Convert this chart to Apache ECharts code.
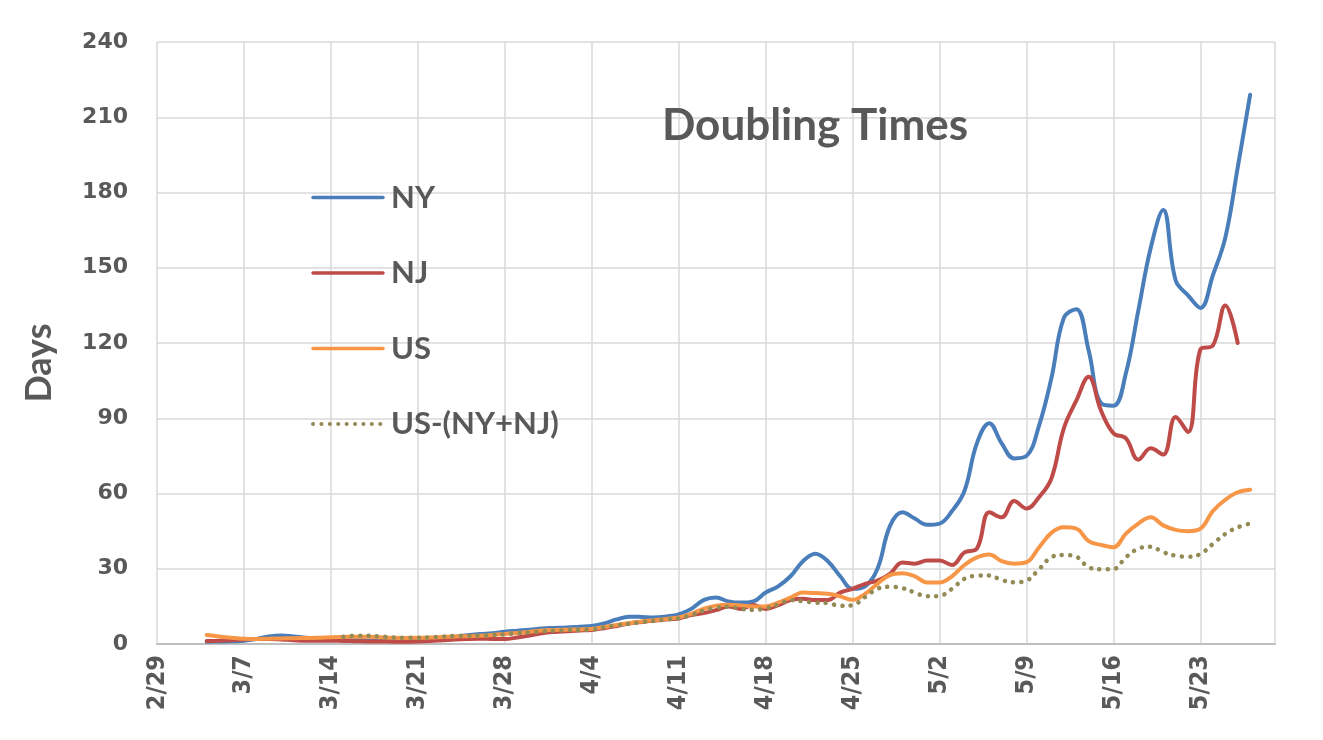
<!DOCTYPE html>
<html>
<head>
<meta charset="utf-8">
<script src="https://cdn.jsdelivr.net/npm/echarts@6/dist/echarts.min.js"></script>
<style>
html, body { margin: 0; padding: 0; background: #fff; }
#chart { width: 1323px; height: 740px; }
</style>
</head>
<body>
<div id="chart"></div>
<script>
// Doubling Times chart
var days = ['2/29','3/1','3/2','3/3','3/4','3/5','3/6','3/7','3/8','3/9','3/10','3/11','3/12','3/13',
    '3/14','3/15','3/16','3/17','3/18','3/19','3/20','3/21','3/22','3/23','3/24','3/25','3/26','3/27',
    '3/28','3/29','3/30','3/31','4/1','4/2','4/3','4/4','4/5','4/6','4/7','4/8','4/9','4/10',
    '4/11','4/12','4/13','4/14','4/15','4/16','4/17','4/18','4/19','4/20','4/21','4/22','4/23','4/24',
    '4/25','4/26','4/27','4/28','4/29','4/30','5/1','5/2','5/3','5/4','5/5','5/6','5/7','5/8',
    '5/9','5/10','5/11','5/12','5/13','5/14','5/15','5/16','5/17','5/18','5/19','5/20','5/21','5/22',
    '5/23','5/24','5/25','5/26','5/27','5/28','5/29'];

var ny = [null,null,null,null,0.9,1.0,1.1,1.3,2.0,3.0,3.4,3.0,2.5,2.2,
    1.9,1.7,1.5,1.4,1.3,1.3,1.4,1.6,2.0,2.4,2.9,3.5,4.0,4.3,
    4.9,5.3,5.7,6.2,6.4,6.6,6.9,7.2,8.2,9.8,10.9,10.8,10.6,11.0,
    11.8,14.0,17.5,18.5,17.0,16.5,17.0,20.5,23.0,27.0,33.0,36.0,33.0,27.0,
    22.0,23.0,30.0,47.0,52.5,50.0,47.5,48.0,53.0,61.0,80.0,88.0,80.0,74.0,
    75.0,87.0,106,130,133.5,117,96,95,108,133,158,173,145,139,
    134,147,162,190,219,null,null];

var nj = [null,null,null,null,1.2,1.3,1.5,1.8,2.0,2.0,1.8,1.5,1.3,1.3,
    1.3,1.2,1.1,1.0,1.0,0.9,0.9,1.0,1.2,1.5,1.8,2.0,2.1,2.0,
    2.0,2.6,3.4,4.3,4.8,5.1,5.4,5.6,6.3,7.2,8.2,8.8,9.3,9.8,
    10.2,11.5,12.3,13.5,15.0,14.0,15.5,14.0,15.5,17.5,18.0,17.5,17.5,20.5,
    22.0,24.0,25.3,28.0,32.5,32.0,33.3,33.3,31.5,36.5,38.0,52.5,50.5,57.0,
    54.0,58.5,66.0,86.0,97.0,106.5,93.0,84.0,82.0,73.5,78.0,75.5,90.5,84.5,
    117.5,119,135,120,null,null,null];

var us = [null,null,null,null,3.6,3.0,2.5,2.1,2.0,2.1,2.2,2.3,2.4,2.5,
    2.7,2.8,2.9,2.9,2.7,2.5,2.4,2.5,2.6,2.8,3.0,3.1,3.3,3.6,
    4.0,4.4,4.9,5.4,5.6,5.7,5.8,6.0,6.8,7.6,8.3,9.0,9.5,10.0,
    10.6,12.0,14.0,15.3,15.6,15.4,15.0,15.0,16.5,18.5,20.5,20.3,20.0,19.0,
    17.6,20.0,24.0,27.5,28.2,27.0,24.5,24.5,27.0,31.5,34.5,35.7,33.0,32.0,
    32.6,38.5,44.3,46.5,46.0,41.0,39.5,38.6,44.0,48.0,50.5,47.3,45.5,45.0,
    46.0,53.0,57.5,60.5,61.5,null,null];

var usExNyNj = [null,null,null,null,null,null,null,null,null,null,null,null,null,null,
    null,2.9,3.3,3.3,3.0,2.6,2.5,2.5,2.7,3.0,3.2,3.3,3.4,3.6,
    3.8,4.3,4.6,5.0,5.3,5.5,5.6,5.7,6.6,7.4,8.0,8.7,9.2,9.7,
    10.2,11.5,13.3,14.5,14.9,14.0,13.6,14.2,15.7,17.5,17.0,16.5,16.3,15.2,
    15.5,18.7,22.0,22.8,22.3,20.5,19.0,19.2,22.0,26.0,27.2,27.3,25.5,24.6,
    25.3,29.8,34.6,35.5,34.8,30.6,29.8,29.9,34.6,38.0,38.8,36.6,35.2,34.8,
    35.9,39.9,43.9,46.5,48.0,null,null];

var yTicks = [0, 30, 60, 90, 120, 150, 180, 210, 240];
var seriesNames = ['NY', 'NJ', 'US', 'US-(NY+NJ)'];
var seriesValues = [ny, nj, us, usExNyNj];
var colors = ['#4A7EBB', '#BE4B48', '#F79646', '#948A54'];

var myChart = echarts.init(document.getElementById('chart'));
var serieData = [];
var legendData = [];
for (var v = 0; v < seriesNames.length; v++) {
    var dotted = v === 3;
    serieData.push({
        name: seriesNames[v],
        type: 'line',
        smooth: 0.4,
        symbol: 'none',
        lineStyle: {
            width: dotted ? 4.5 : 4,
            color: colors[v],
            type: dotted ? [0.1, 8.3] : 'solid',
            cap: 'round'
        },
        itemStyle: { color: colors[v] },
        data: seriesValues[v]
    });
    legendData.push({
        name: seriesNames[v],
        lineStyle: { width: dotted ? 4 : 3.5 }
    });
}

var gridTick = function (idx) { return idx % 7 === 0 || idx === days.length - 1; };

var option = {
    backgroundColor: '#fff',
    animation: false,
    color: colors,
    title: {
        text: 'Doubling Times',
        left: 810, top: 99, textAlign: 'center',
        textStyle: { color: '#595959', fontSize: 44, fontWeight: 'bold', fontFamily: 'Lato' }
    },
    legend: {
        orient: 'vertical',
        left: 306, top: 177,
        itemWidth: 70, itemHeight: 14, itemGap: 44.5,
        itemStyle: { opacity: 0 },
        data: legendData,
        textStyle: { color: '#595959', fontSize: 31, fontWeight: 'bold', fontFamily: 'Lato', lineHeight: 30, padding: [0, 0, 0, 3] }
    },
    grid: { left: 157, right: 48, top: 42, bottom: 96 },
    xAxis: {
        type: 'category',
        boundaryGap: false,
        data: days,
        axisLine: { show: true, lineStyle: { color: '#bfbfbf', width: 2 } },
        axisTick: { show: false },
        axisLabel: {
            interval: function (idx) { return idx % 7 === 0; },
            rotate: 90, margin: 11,
            color: '#595959', fontSize: 25, fontWeight: 'bold', fontFamily: 'DejaVu Sans Condensed'
        },
        splitLine: { show: true, interval: gridTick, lineStyle: { color: '#d9d9d9', width: 1.5 } }
    },
    yAxis: {
        type: 'value',
        min: yTicks[0], max: yTicks[yTicks.length - 1], interval: 30,
        name: 'Days', nameLocation: 'middle', nameGap: 100, nameRotate: 90,
        nameTextStyle: { color: '#595959', fontSize: 36, fontWeight: 'bold', fontFamily: 'Lato', padding: [0, 40, 0, 0] },
        axisLine: { show: false },
        axisTick: { show: false },
        axisLabel: { color: '#595959', fontSize: 22, fontWeight: 'bold', fontFamily: 'DejaVu Sans', margin: 29 },
        splitLine: { lineStyle: { color: '#d9d9d9', width: 1.5 } }
    },
    series: serieData
};

myChart.setOption(option);
</script>
</body>
</html>
